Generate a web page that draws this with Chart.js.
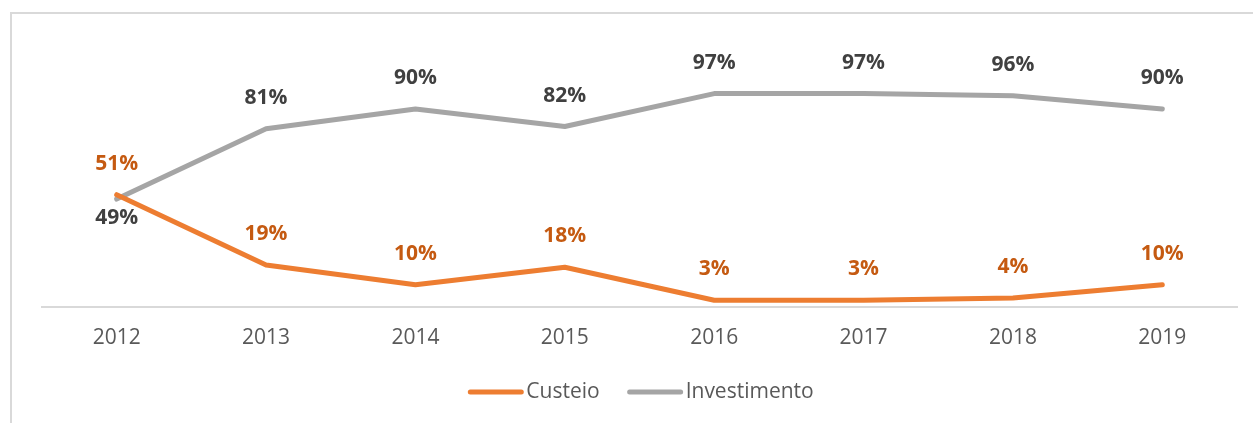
<!DOCTYPE html>
<html>
<head>
<meta charset="utf-8">
<script src="https://cdn.jsdelivr.net/npm/chart.js@4.4.1/dist/chart.umd.min.js"></script>
<style>
  html, body { margin: 0; padding: 0; background: #fff; }
  #wrap { position: relative; width: 1253px; height: 423px; overflow: hidden; }
  #frame { position: absolute; left: 10px; top: 12px; width: 1300px; height: 500px;
           border-left: 2px solid #d9d9d9; border-top: 2px solid #d9d9d9; }
  canvas { position: absolute; left: 0; top: 0; }
</style>
</head>
<body>
<div id="wrap">
  <div id="frame"></div>
  <canvas id="chart" width="1253" height="423"></canvas>
</div>
<script>
const years = ['2012', '2013', '2014', '2015', '2016', '2017', '2018', '2019'];
const custeio = [51, 19, 10, 18, 3, 3, 4, 10];
const investimento = [49, 81, 90, 82, 97, 97, 96, 90];

const FONT = "'Open Sans', 'Noto Sans', sans-serif";

// percentage labels next to each point
const pointLabels = {
    id: 'pointLabels',
    afterDatasetsDraw(chart) {
        const ctx = chart.ctx;
        ctx.save();
        ctx.font = 'bold 21px ' + FONT;
        ctx.textAlign = 'center';
        ctx.textBaseline = 'middle';
        chart.data.datasets.forEach((ds, i) => {
            const other = chart.data.datasets[1 - i].data;
            const meta = chart.getDatasetMeta(i);
            meta.data.forEach((pt, j) => {
                const v = ds.data[j];
                const below = v < other[j] && other[j] - v < 10;
                ctx.fillStyle = ds.labelColor;
                ctx.fillText(v + '%', pt.x, below ? pt.y + 19 : pt.y - 31);
            });
        });
        ctx.restore();
    }
};

// legend drawn like the original (long line + text)
const lineLegend = {
    id: 'lineLegend',
    afterDraw(chart) {
        const ctx = chart.ctx;
        ctx.save();
        ctx.font = '21px ' + FONT;
        ctx.textBaseline = 'middle';
        const lineW = 55, gap = 3, itemGap = 28, y = 392;
        const items = chart.data.datasets.map(ds => ({ ds, w: lineW + gap + ctx.measureText(ds.label).width }));
        const total = items.reduce((s, it) => s + it.w, 0) + itemGap * (items.length - 1);
        let x = 641 - total / 2;
        items.forEach(it => {
            ctx.strokeStyle = it.ds.borderColor;
            ctx.lineWidth = 5;
            ctx.lineCap = 'round';
            ctx.beginPath();
            ctx.moveTo(x + 2, y);
            ctx.lineTo(x + lineW - 2, y);
            ctx.stroke();
            ctx.fillStyle = '#595959';
            ctx.fillText(it.ds.label, x + lineW + gap, y);
            x += it.w + itemGap;
        });
        ctx.restore();
    }
};

new Chart(document.getElementById('chart'), {
    type: 'line',
    data: {
        labels: years,
        datasets: [{
            label: 'Custeio',
            data: custeio,
            borderColor: '#ed7d31',
            backgroundColor: '#ed7d31',
            labelColor: '#c55a11',
            borderWidth: 5,
            tension: 0,
            pointRadius: 0,
            borderCapStyle: 'round',
            borderJoinStyle: 'round',
            clip: false
        }, {
            label: 'Investimento',
            data: investimento,
            borderColor: '#a5a5a5',
            backgroundColor: '#a5a5a5',
            labelColor: '#404040',
            borderWidth: 5,
            tension: 0,
            pointRadius: 0,
            borderCapStyle: 'round',
            borderJoinStyle: 'round',
            clip: false
        }]
    },
    options: {
        responsive: false,
        animation: false,
        layout: { padding: { left: 42, right: 16, top: 87, bottom: 53 } },
        plugins: {
            legend: { display: false },
            tooltip: { enabled: false }
        },
        scales: {
            x: {
                offset: true,
                grid: { display: false, drawTicks: false },
                border: { display: true, color: '#d9d9d9', width: 2 },
                ticks: { color: '#595959', font: { family: FONT, size: 21 }, padding: 19 }
            },
            y: {
                display: false,
                min: 0,
                max: 100
            }
        }
    },
    plugins: [pointLabels, lineLegend]
});
</script>
</body>
</html>
